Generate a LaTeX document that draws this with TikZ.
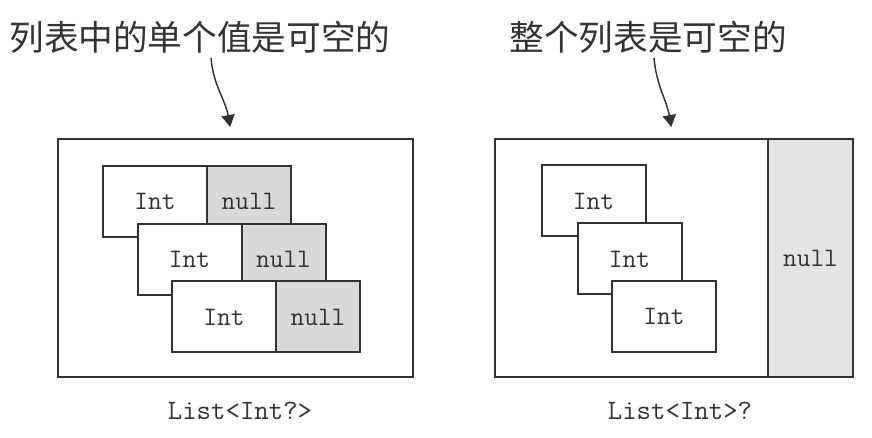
\documentclass[tikz,border=0pt]{standalone}
\usepackage{fontspec}
\newfontfamily\cjk{Noto Sans CJK SC}
\usetikzlibrary{arrows.meta, positioning}
\definecolor{inkgray}{HTML}{333333}
\definecolor{nullgray}{HTML}{D9D9D9}
\definecolor{colgray}{HTML}{E4E4E4}
\tikzset{
    base/.style={draw=inkgray, line width=1.5pt, font=\ttfamily\fontsize{20}{24}\selectfont, text=inkgray, inner sep=0pt, outer sep=0pt},
    intcell/.style={base, rectangle, fill=white, minimum width=78pt, minimum height=53.25pt},
    nullcell/.style={base, rectangle, fill=nullgray, minimum width=63pt, minimum height=53.25pt},
    frame/.style={base, rectangle, fill=white, minimum height=178.5pt},
    title/.style={font=\cjk\fontsize{26}{30}\selectfont, text=inkgray},
    caption/.style={font=\ttfamily\fontsize{21}{24}\selectfont, text=inkgray},
    line/.style={draw=inkgray, line width=1.1pt, -{Triangle[length=9pt, width=10pt]}}
}

\begin{document}
\begin{tikzpicture}[x=0.75pt, y=-0.75pt]
    \useasboundingbox (0,0) rectangle (872,438);

    % left: every value may be null
    \node [frame, minimum width=266.25pt] (listL) at (235.5,258) {};
    \node [intcell] (intA) at (155,201.5) {Int};
    \node [nullcell, right=0pt of intA] (nullA) {null};
    \node [intcell] (intB) at (189.5,259.5) {Int};
    \node [nullcell, right=0pt of intB] (nullB) {null};
    \node [intcell] (intC) at (224,317) {Int};
    \node [nullcell, right=0pt of intC] (nullC) {null};

    % right: the whole list may be null
    \node [frame, minimum width=268.5pt] (listR) at (674,258) {};
    \node [base, fill=colgray, minimum width=63.75pt, minimum height=178.5pt, anchor=east] (nullR) at (listR.east) {null};
    \node [intcell] (intD) at (593.5,201) {Int};
    \node [intcell] (intE) at (629.5,259) {Int};
    \node [intcell] (intF) at (664,316.5) {Int};

    \node [title] (titleL) at (200,37) {列表中的单个值是可空的};
    \node [title] (titleR) at (648,37) {整个列表是可空的};

    \coordinate (fromL) at (211,58);
    \coordinate (fromR) at (654,58);
    \draw [line] (fromL) to[out=-85, in=100] ([shift={(-4pt,9pt)}]listL.north);
    \draw [line] (fromR) to[out=-85, in=100] ([shift={(-2pt,9pt)}]listR.north);

    \node [caption] (capL) at (240,411) {List<Int?>};
    \node [caption] (capR) at (680,411) {List<Int>?};
\end{tikzpicture}
\end{document}
